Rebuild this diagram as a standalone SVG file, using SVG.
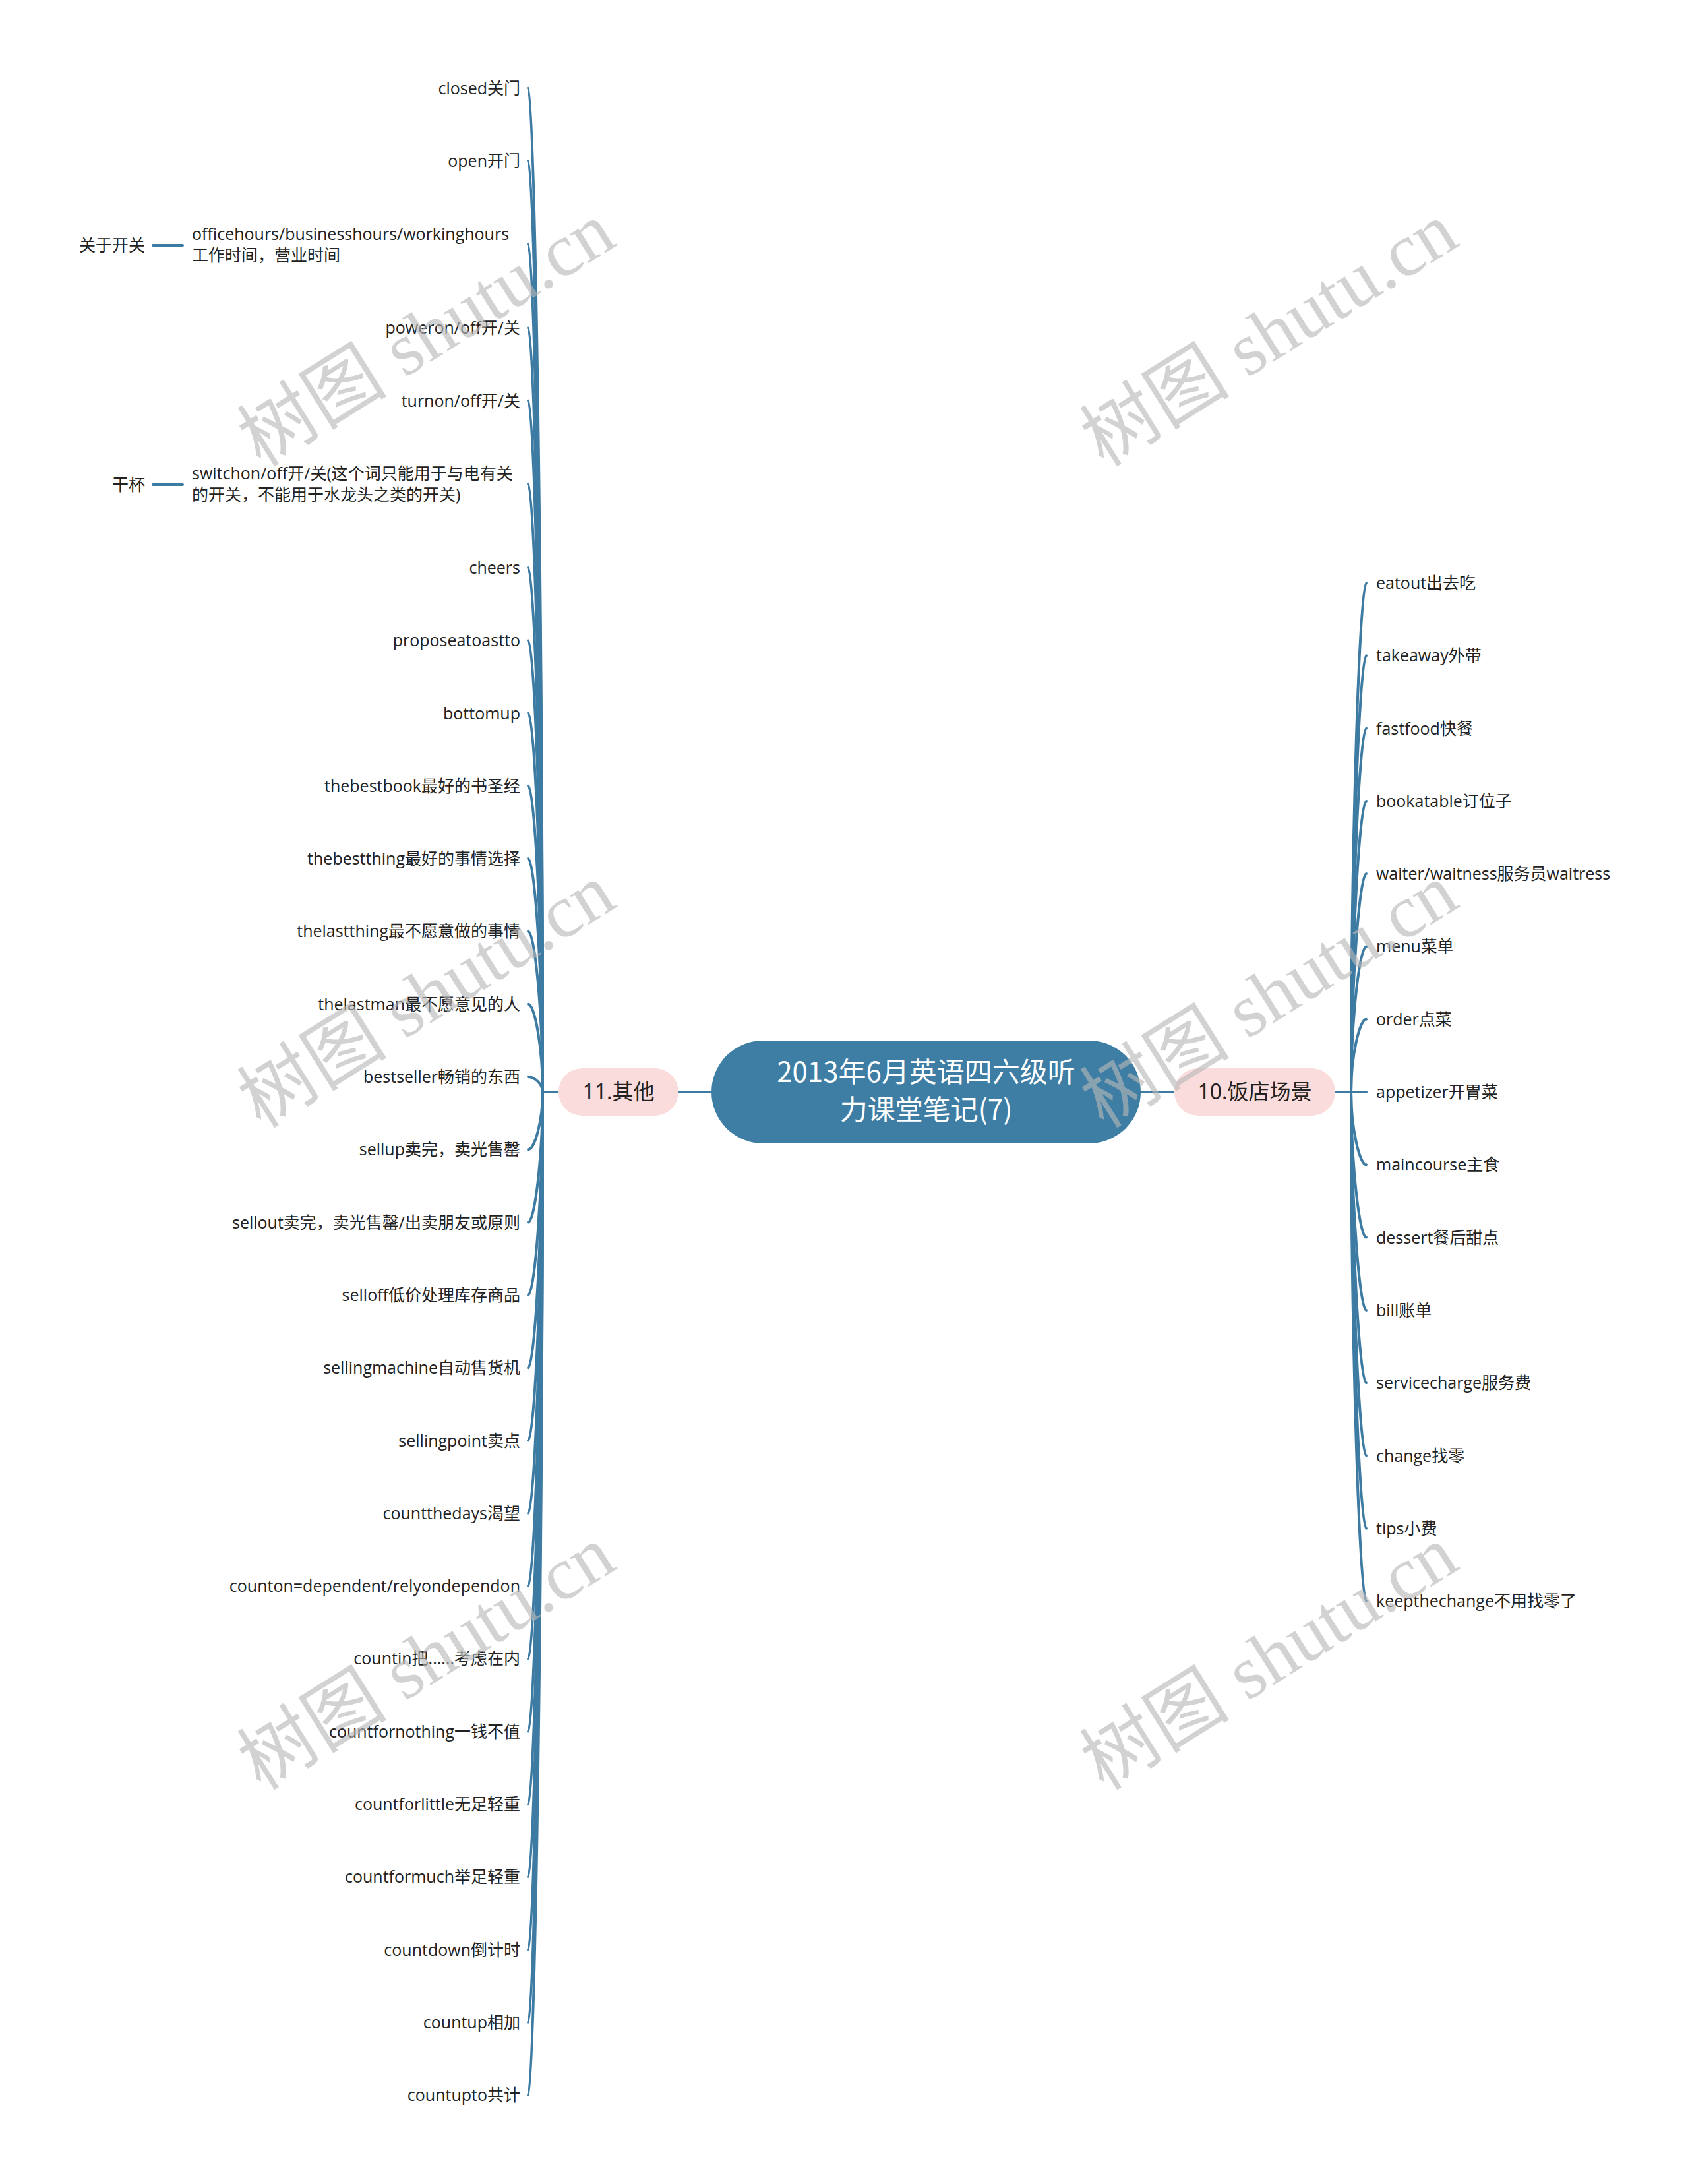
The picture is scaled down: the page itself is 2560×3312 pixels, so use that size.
<svg xmlns="http://www.w3.org/2000/svg" width="2560" height="3312" viewBox="0 0 2560 3312">
<style>
.bg{fill:#ffffff}
.ln{fill:none;stroke:#3d7ba3;stroke-width:4;stroke-linecap:round}
.lf{font-family:"Open Sans","Noto Sans CJK SC",sans-serif;font-size:25px;fill:#222222}
.l{text-anchor:end}
.br{fill:#fadcdc}
.brt{font-family:"Noto Sans","Noto Sans CJK SC",sans-serif;font-size:32px;fill:#222222;text-anchor:middle}
.ct{font-family:"Noto Sans CJK SC",sans-serif;font-size:42px;fill:#ffffff;text-anchor:middle}
.wm{font-family:"Liberation Serif","Noto Sans CJK SC",serif;font-size:114px;fill:#b8b8b8;opacity:0.62;text-anchor:middle}
</style>
<rect class="bg" x="0" y="0" width="2560" height="3312"/>
<g id="connectors">
<line class="ln" x1="1029" y1="1656" x2="1079" y2="1656"/>
<line class="ln" x1="1730" y1="1656" x2="1781" y2="1656"/>
<line class="ln" x1="823" y1="1656" x2="847" y2="1656"/>
<line class="ln" x1="2025" y1="1656" x2="2049" y2="1656"/>
<line class="ln" x1="232" y1="372" x2="277" y2="372"/>
<line class="ln" x1="232" y1="735" x2="277" y2="735"/>
<path class="ln" d="M801 133.5C811 133.5 823 894.8 823 1656"/>
<path class="ln" d="M801 243.8C811 243.8 823 949.9 823 1656"/>
<path class="ln" d="M801 370.5C811 370.5 823 1013.3 823 1656"/>
<path class="ln" d="M801 497.2C811 497.2 823 1076.6 823 1656"/>
<path class="ln" d="M801 607.5C811 607.5 823 1131.8 823 1656"/>
<path class="ln" d="M801 734.2C811 734.2 823 1195.1 823 1656"/>
<path class="ln" d="M801 860.9C811 860.9 823 1258.5 823 1656"/>
<path class="ln" d="M801 971.2C811 971.2 823 1313.6 823 1656"/>
<path class="ln" d="M801 1081.5C811 1081.5 823 1368.8 823 1656"/>
<path class="ln" d="M801 1191.8C811 1191.8 823 1423.9 823 1656"/>
<path class="ln" d="M801 1302.1C811 1302.1 823 1479.1 823 1656"/>
<path class="ln" d="M801 1412.4C811 1412.4 823 1534.2 823 1656"/>
<path class="ln" d="M801 1522.7C811 1522.7 823 1589.4 823 1656"/>
<path class="ln" d="M801 1633C811 1633 823 1644.5 823 1656"/>
<path class="ln" d="M801 1743.3C811 1743.3 823 1699.7 823 1656"/>
<path class="ln" d="M801 1853.6C811 1853.6 823 1754.8 823 1656"/>
<path class="ln" d="M801 1963.9C811 1963.9 823 1810 823 1656"/>
<path class="ln" d="M801 2074.2C811 2074.2 823 1865.1 823 1656"/>
<path class="ln" d="M801 2184.5C811 2184.5 823 1920.3 823 1656"/>
<path class="ln" d="M801 2294.8C811 2294.8 823 1975.4 823 1656"/>
<path class="ln" d="M801 2405.1C811 2405.1 823 2030.6 823 1656"/>
<path class="ln" d="M801 2515.4C811 2515.4 823 2085.7 823 1656"/>
<path class="ln" d="M801 2625.7C811 2625.7 823 2140.9 823 1656"/>
<path class="ln" d="M801 2736C811 2736 823 2196 823 1656"/>
<path class="ln" d="M801 2846.3C811 2846.3 823 2251.2 823 1656"/>
<path class="ln" d="M801 2956.6C811 2956.6 823 2306.3 823 1656"/>
<path class="ln" d="M801 3066.9C811 3066.9 823 2361.5 823 1656"/>
<path class="ln" d="M801 3177.2C811 3177.2 823 2416.6 823 1656"/>
<path class="ln" d="M2072 884C2062 884 2049 1270 2049 1656"/>
<path class="ln" d="M2072 994.2C2062 994.2 2049 1325.1 2049 1656"/>
<path class="ln" d="M2072 1104.5C2062 1104.5 2049 1380.3 2049 1656"/>
<path class="ln" d="M2072 1214.8C2062 1214.8 2049 1435.4 2049 1656"/>
<path class="ln" d="M2072 1325.1C2062 1325.1 2049 1490.6 2049 1656"/>
<path class="ln" d="M2072 1435.4C2062 1435.4 2049 1545.7 2049 1656"/>
<path class="ln" d="M2072 1545.7C2062 1545.7 2049 1600.9 2049 1656"/>
<path class="ln" d="M2072 1656L2049 1656"/>
<path class="ln" d="M2072 1766.3C2062 1766.3 2049 1711.2 2049 1656"/>
<path class="ln" d="M2072 1876.6C2062 1876.6 2049 1766.3 2049 1656"/>
<path class="ln" d="M2072 1986.9C2062 1986.9 2049 1821.5 2049 1656"/>
<path class="ln" d="M2072 2097.2C2062 2097.2 2049 1876.6 2049 1656"/>
<path class="ln" d="M2072 2207.5C2062 2207.5 2049 1931.8 2049 1656"/>
<path class="ln" d="M2072 2317.8C2062 2317.8 2049 1986.9 2049 1656"/>
<path class="ln" d="M2072 2428.1C2062 2428.1 2049 2042.1 2049 1656"/>
</g>
<g id="root">
<rect x="1079" y="1578" width="651" height="156" rx="78" fill="#3e7ea5"/>
<text class="ct" x="1404.5" y="1641">2013年6月英语四六级听</text>
<text class="ct" x="1404.5" y="1698">力课堂笔记(7)</text>
</g>
<g id="b11"><rect class="br" x="847" y="1620" width="182" height="72" rx="36"/><text class="brt" x="938" y="1667">11.其他</text></g>
<g id="b10"><rect class="br" x="1781" y="1620" width="244" height="72" rx="36"/><text class="brt" x="1903" y="1667">10.饭店场景</text></g>
<g id="sub1"><text class="lf l" x="220" y="381">关于开关</text></g>
<g id="sub2"><text class="lf l" x="220" y="744">干杯</text></g>
<g id="left-leaves">
<g id="n1"><text class="lf l" x="789" y="142.5">closed关门</text></g>
<g id="n2"><text class="lf l" x="789" y="252.8">open开门</text></g>
<g id="n3"><text class="lf" x="291" y="363.5">officehours/businesshours/workinghours</text><text class="lf" x="291" y="395.5">工作时间，营业时间</text></g>
<g id="n4"><text class="lf l" x="789" y="506.2">poweron/off开/关</text></g>
<g id="n5"><text class="lf l" x="789" y="616.5">turnon/off开/关</text></g>
<g id="n6"><text class="lf" x="291" y="727">switchon/off开/关(这个词只能用于与电有关</text><text class="lf" x="291" y="759">的开关，不能用于水龙头之类的开关)</text></g>
<g id="n7"><text class="lf l" x="789" y="869.9">cheers</text></g>
<g id="n8"><text class="lf l" x="789" y="980.2">proposeatoastto</text></g>
<g id="n9"><text class="lf l" x="789" y="1090.5">bottomup</text></g>
<g id="n10"><text class="lf l" x="789" y="1200.8">thebestbook最好的书圣经</text></g>
<g id="n11"><text class="lf l" x="789" y="1311.1">thebestthing最好的事情选择</text></g>
<g id="n12"><text class="lf l" x="789" y="1421.4">thelastthing最不愿意做的事情</text></g>
<g id="n13"><text class="lf l" x="789" y="1531.7">thelastman最不愿意见的人</text></g>
<g id="n14"><text class="lf l" x="789" y="1642">bestseller畅销的东西</text></g>
<g id="n15"><text class="lf l" x="789" y="1752.3">sellup卖完，卖光售罄</text></g>
<g id="n16"><text class="lf l" x="789" y="1862.6">sellout卖完，卖光售罄/出卖朋友或原则</text></g>
<g id="n17"><text class="lf l" x="789" y="1972.9">selloff低价处理库存商品</text></g>
<g id="n18"><text class="lf l" x="789" y="2083.2">sellingmachine自动售货机</text></g>
<g id="n19"><text class="lf l" x="789" y="2193.5">sellingpoint卖点</text></g>
<g id="n20"><text class="lf l" x="789" y="2303.8">countthedays渴望</text></g>
<g id="n21"><text class="lf l" x="789" y="2414.1">counton=dependent/relyondependon</text></g>
<g id="n22"><text class="lf l" x="789" y="2524.4">countin把......考虑在内</text></g>
<g id="n23"><text class="lf l" x="789" y="2634.7">countfornothing一钱不值</text></g>
<g id="n24"><text class="lf l" x="789" y="2745">countforlittle无足轻重</text></g>
<g id="n25"><text class="lf l" x="789" y="2855.3">countformuch举足轻重</text></g>
<g id="n26"><text class="lf l" x="789" y="2965.6">countdown倒计时</text></g>
<g id="n27"><text class="lf l" x="789" y="3075.9">countup相加</text></g>
<g id="n28"><text class="lf l" x="789" y="3186.2">countupto共计</text></g>
</g>
<g id="right-leaves">
<g id="r1"><text class="lf" x="2087" y="893">eatout出去吃</text></g>
<g id="r2"><text class="lf" x="2087" y="1003.2">takeaway外带</text></g>
<g id="r3"><text class="lf" x="2087" y="1113.5">fastfood快餐</text></g>
<g id="r4"><text class="lf" x="2087" y="1223.8">bookatable订位子</text></g>
<g id="r5"><text class="lf" x="2087" y="1334.1">waiter/waitness服务员waitress</text></g>
<g id="r6"><text class="lf" x="2087" y="1444.4">menu菜单</text></g>
<g id="r7"><text class="lf" x="2087" y="1554.7">order点菜</text></g>
<g id="r8"><text class="lf" x="2087" y="1665">appetizer开胃菜</text></g>
<g id="r9"><text class="lf" x="2087" y="1775.3">maincourse主食</text></g>
<g id="r10"><text class="lf" x="2087" y="1885.6">dessert餐后甜点</text></g>
<g id="r11"><text class="lf" x="2087" y="1995.9">bill账单</text></g>
<g id="r12"><text class="lf" x="2087" y="2106.2">servicecharge服务费</text></g>
<g id="r13"><text class="lf" x="2087" y="2216.5">change找零</text></g>
<g id="r14"><text class="lf" x="2087" y="2326.8">tips小费</text></g>
<g id="r15"><text class="lf" x="2087" y="2437.1">keepthechange不用找零了</text></g>
</g>
<g id="watermarks">
<text class="wm" transform="translate(667,540) rotate(-32)">树图 shutu.cn</text>
<text class="wm" transform="translate(1945,540) rotate(-32)">树图 shutu.cn</text>
<text class="wm" transform="translate(667,1543) rotate(-32)">树图 shutu.cn</text>
<text class="wm" transform="translate(1945,1543) rotate(-32)">树图 shutu.cn</text>
<text class="wm" transform="translate(667,2547) rotate(-32)">树图 shutu.cn</text>
<text class="wm" transform="translate(1945,2547) rotate(-32)">树图 shutu.cn</text>
</g>
</svg>
